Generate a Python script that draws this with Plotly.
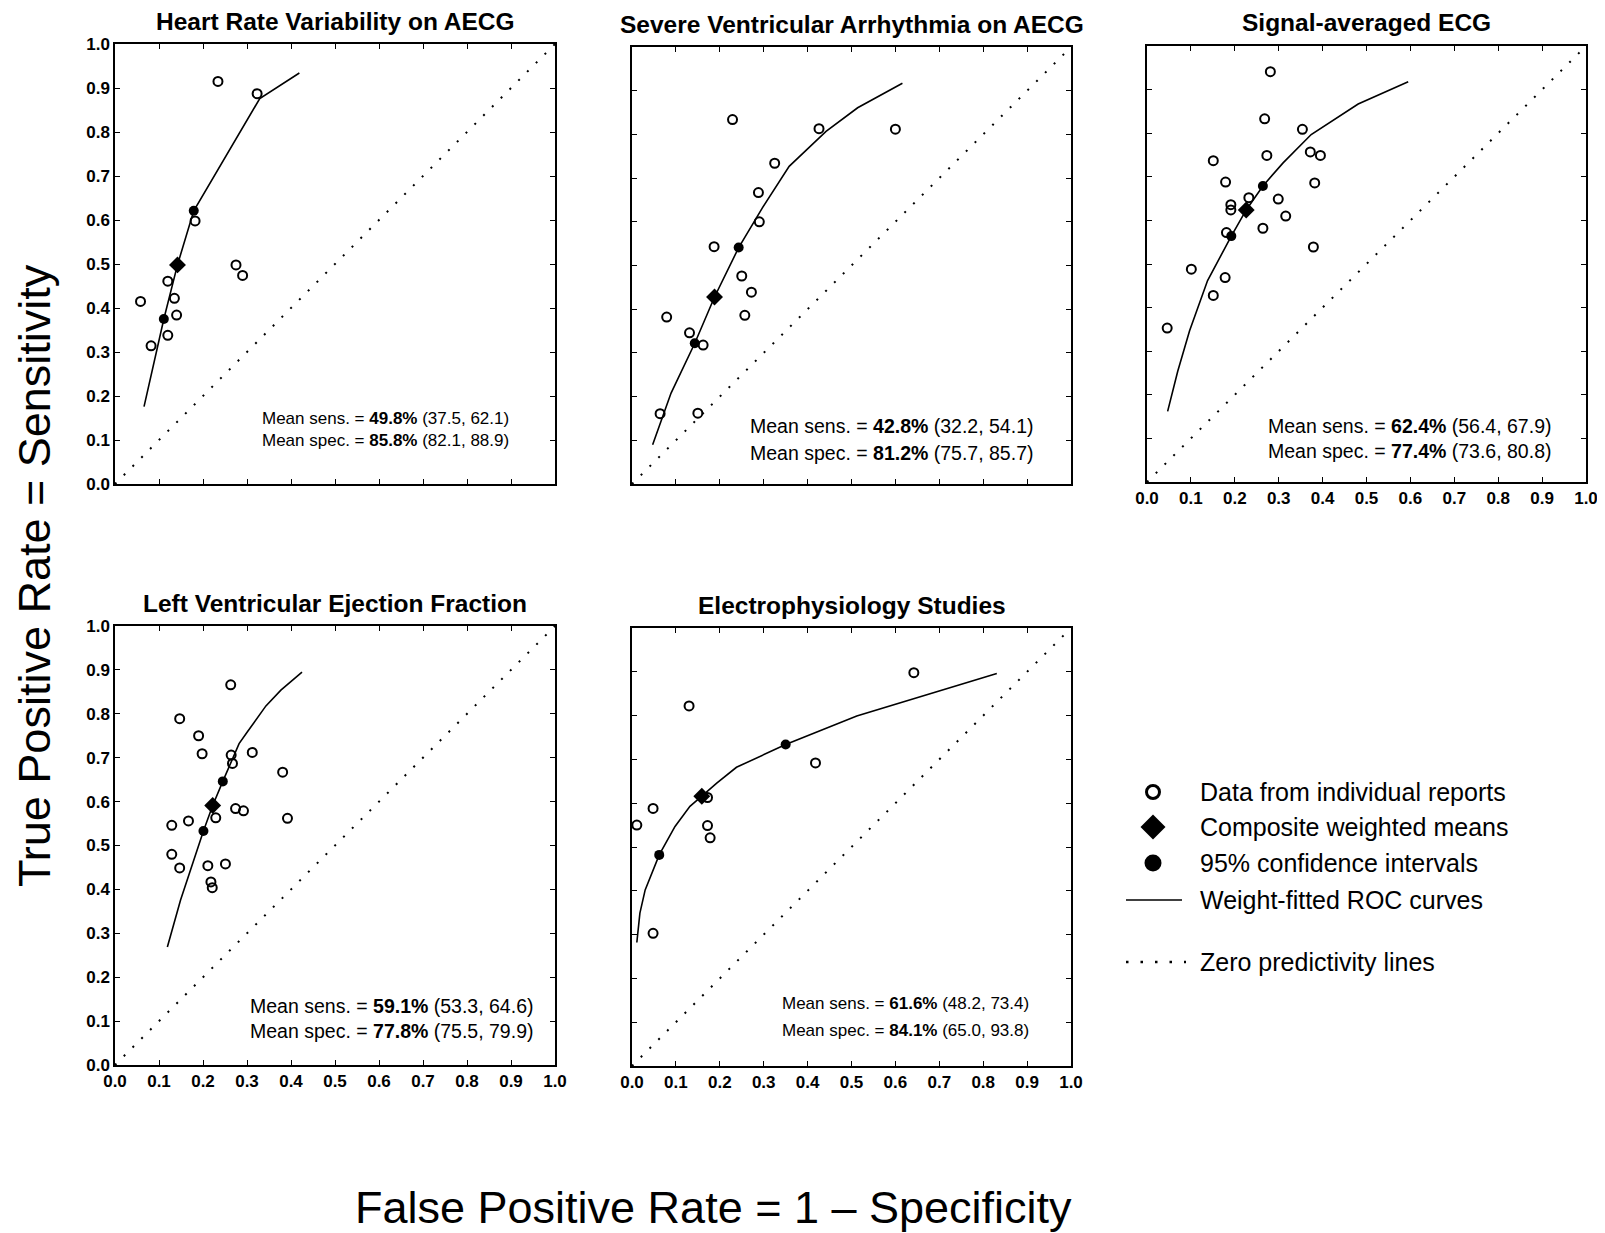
import plotly.graph_objects as go

W, H = 1605, 1233
OFF = 8  # the page body adds an 8px margin; compensate so the chart lands where intended
FONT = "Arial, 'Liberation Sans', Helvetica, sans-serif"

# ---------------- data (FPR = 1 - specificity, TPR = sensitivity) ----------------
titles = ["Heart Rate Variability on AECG", "Severe Ventricular Arrhythmia on AECG",
          "Signal-averaged ECG", "Left Ventricular Ejection Fraction",
          "Electrophysiology Studies"]

# Heart Rate Variability on AECG
hrv_obs_fpr = [0.058, 0.082, 0.120, 0.135, 0.140, 0.120, 0.182, 0.234, 0.323, 0.275, 0.290]
hrv_obs_tpr = [0.415, 0.314, 0.461, 0.422, 0.384, 0.338, 0.598, 0.915, 0.887, 0.498, 0.474]
hrv_ci_fpr = [0.111, 0.179]
hrv_ci_tpr = [0.375, 0.621]
hrv_mean_fpr = [0.142]
hrv_mean_tpr = [0.498]
hrv_roc_fpr = [0.066, 0.111, 0.142, 0.179, 0.329, 0.419]
hrv_roc_tpr = [0.176, 0.375, 0.498, 0.621, 0.876, 0.934]

# Severe Ventricular Arrhythmia on AECG
sva_obs_fpr = [0.064, 0.079, 0.131, 0.162, 0.150, 0.187, 0.229, 0.250, 0.272, 0.257, 0.288,
               0.290, 0.325, 0.426, 0.600]
sva_obs_tpr = [0.161, 0.382, 0.346, 0.318, 0.162, 0.543, 0.834, 0.476, 0.439, 0.386, 0.667,
               0.600, 0.734, 0.813, 0.812]
sva_ci_fpr = [0.143, 0.243]
sva_ci_tpr = [0.322, 0.541]
sva_mean_fpr = [0.188]
sva_mean_tpr = [0.428]
sva_roc_fpr = [0.047, 0.089, 0.143, 0.188, 0.243, 0.297, 0.358, 0.442, 0.514, 0.616]
sva_roc_tpr = [0.090, 0.208, 0.322, 0.428, 0.541, 0.632, 0.727, 0.807, 0.861, 0.917]

# Signal-averaged ECG
saecg_obs_fpr = [0.046, 0.101, 0.151, 0.178, 0.151, 0.179, 0.191, 0.191, 0.181, 0.232, 0.281,
                 0.268, 0.273, 0.264, 0.299, 0.316, 0.354, 0.372, 0.395, 0.382, 0.379]
saecg_obs_tpr = [0.353, 0.488, 0.428, 0.469, 0.737, 0.688, 0.636, 0.624, 0.572, 0.652, 0.941,
                 0.833, 0.749, 0.582, 0.649, 0.610, 0.809, 0.757, 0.749, 0.686, 0.539]
saecg_ci_fpr = [0.192, 0.264]
saecg_ci_tpr = [0.564, 0.679]
saecg_mean_fpr = [0.226]
saecg_mean_tpr = [0.624]
saecg_roc_fpr = [0.047, 0.070, 0.097, 0.138, 0.192, 0.226, 0.264, 0.310, 0.374, 0.481, 0.595]
saecg_roc_tpr = [0.162, 0.254, 0.347, 0.462, 0.564, 0.624, 0.679, 0.732, 0.797, 0.867, 0.918]

# Left Ventricular Ejection Fraction
lvef_obs_fpr = [0.147, 0.129, 0.129, 0.147, 0.167, 0.190, 0.198, 0.211, 0.218, 0.221, 0.229,
                0.251, 0.263, 0.264, 0.267, 0.274, 0.292, 0.312, 0.381, 0.392]
lvef_obs_tpr = [0.789, 0.546, 0.480, 0.449, 0.556, 0.750, 0.709, 0.454, 0.417, 0.404, 0.563,
                0.458, 0.866, 0.706, 0.687, 0.584, 0.579, 0.712, 0.667, 0.562]
lvef_ci_fpr = [0.201, 0.245]
lvef_ci_tpr = [0.533, 0.646]
lvef_mean_fpr = [0.222]
lvef_mean_tpr = [0.591]
lvef_roc_fpr = [0.119, 0.149, 0.201, 0.222, 0.245, 0.282, 0.301, 0.343, 0.377, 0.425]
lvef_roc_tpr = [0.269, 0.376, 0.533, 0.591, 0.646, 0.732, 0.759, 0.818, 0.854, 0.895]

# Electrophysiology Studies
eps_obs_fpr = [0.011, 0.048, 0.048, 0.130, 0.172, 0.172, 0.178, 0.418, 0.642]
eps_obs_tpr = [0.550, 0.588, 0.303, 0.822, 0.613, 0.549, 0.521, 0.692, 0.898]
eps_ci_fpr = [0.062, 0.350]
eps_ci_tpr = [0.482, 0.734]
eps_mean_fpr = [0.159]
eps_mean_tpr = [0.616]
eps_roc_fpr = [0.011, 0.018, 0.030, 0.062, 0.098, 0.132, 0.159, 0.193, 0.238, 0.350, 0.512, 0.831]
eps_roc_tpr = [0.282, 0.349, 0.402, 0.482, 0.547, 0.593, 0.616, 0.646, 0.682, 0.734, 0.799, 0.896]

# summary statistics: mean (95% CI)
mean_sens = ["49.8%", "42.8%", "62.4%", "59.1%", "61.6%"]
sens_ci = ["(37.5, 62.1)", "(32.2, 54.1)", "(56.4, 67.9)", "(53.3, 64.6)", "(48.2, 73.4)"]
mean_spec = ["85.8%", "81.2%", "77.4%", "77.8%", "84.1%"]
spec_ci = ["(82.1, 88.9)", "(75.7, 85.7)", "(73.6, 80.8)", "(75.5, 79.9)", "(65.0, 93.8)"]

diag = [0, 1]
ticks = [0.0, 0.1, 0.2, 0.3, 0.4, 0.5, 0.6, 0.7, 0.8, 0.9, 1.0]

legend_labels = ["Data from individual reports", "Composite weighted means",
                 "95% confidence intervals", "Weight-fitted ROC curves",
                 "Zero predictivity lines"]

# ---------------- layout helpers ----------------
panels = [
    dict(obs=(hrv_obs_fpr, hrv_obs_tpr), ci=(hrv_ci_fpr, hrv_ci_tpr),
         mean=(hrv_mean_fpr, hrv_mean_tpr), roc=(hrv_roc_fpr, hrv_roc_tpr)),
    dict(obs=(sva_obs_fpr, sva_obs_tpr), ci=(sva_ci_fpr, sva_ci_tpr),
         mean=(sva_mean_fpr, sva_mean_tpr), roc=(sva_roc_fpr, sva_roc_tpr)),
    dict(obs=(saecg_obs_fpr, saecg_obs_tpr), ci=(saecg_ci_fpr, saecg_ci_tpr),
         mean=(saecg_mean_fpr, saecg_mean_tpr), roc=(saecg_roc_fpr, saecg_roc_tpr)),
    dict(obs=(lvef_obs_fpr, lvef_obs_tpr), ci=(lvef_ci_fpr, lvef_ci_tpr),
         mean=(lvef_mean_fpr, lvef_mean_tpr), roc=(lvef_roc_fpr, lvef_roc_tpr)),
    dict(obs=(eps_obs_fpr, eps_obs_tpr), ci=(eps_ci_fpr, eps_ci_tpr),
         mean=(eps_mean_fpr, eps_mean_tpr), roc=(eps_roc_fpr, eps_roc_tpr)),
]

# pixel boxes of the plot areas (left, right, top, bottom) in page pixels
boxes = [(115, 555, 44, 484), (632, 1071, 47, 484), (1147, 1586, 46, 482),
         (115, 555, 626, 1065), (632, 1071, 628, 1066)]
show_xlabels = [False, False, True, True, True]
show_ylabels = [True, False, False, True, False]
# annotation placement (data coords) and font size per panel
ann_pos = [(0.90, 0.149, 0.098, 17), (0.918, 0.132, 0.072, 19.5), (0.924, 0.129, 0.070, 19.5),
           (0.955, 0.134, 0.077, 19.5), (0.910, 0.143, 0.082, 17)]


def px_x(p):
    return (p - OFF) / W


def px_y(p):
    return 1 - (p - OFF) / H


fig = go.Figure()
annotations = []

for i, pnl in enumerate(panels):
    n = "" if i == 0 else str(i + 1)
    xa, ya = "x" + n, "y" + n
    l, r, t, b = boxes[i]

    fig.add_trace(go.Scatter(x=diag, y=diag, xaxis=xa, yaxis=ya, mode="lines",
                             line=dict(color="black", width=2, dash="2px,10.4px"),
                             showlegend=False, hoverinfo="skip"))
    fig.add_trace(go.Scatter(x=pnl["roc"][0], y=pnl["roc"][1], xaxis=xa, yaxis=ya,
                             mode="lines", line=dict(color="black", width=1.6),
                             showlegend=False))
    fig.add_trace(go.Scatter(x=pnl["obs"][0], y=pnl["obs"][1], xaxis=xa, yaxis=ya,
                             mode="markers",
                             marker=dict(symbol="circle-open", size=9, color="black",
                                         line=dict(width=2, color="black")),
                             showlegend=False))
    fig.add_trace(go.Scatter(x=pnl["ci"][0], y=pnl["ci"][1], xaxis=xa, yaxis=ya,
                             mode="markers",
                             marker=dict(symbol="circle", size=10, color="black"),
                             showlegend=False))
    fig.add_trace(go.Scatter(x=pnl["mean"][0], y=pnl["mean"][1], xaxis=xa, yaxis=ya,
                             mode="markers",
                             marker=dict(symbol="diamond", size=13, color="black"),
                             showlegend=False))

    axis_common = dict(range=[0, 1], tickmode="array", tickvals=ticks, tickformat=".1f",
                       ticks="inside", ticklen=5, tickwidth=1.4, tickcolor="black",
                       showline=True, linewidth=1.5, linecolor="black", mirror="allticks",
                       showgrid=False, zeroline=False, automargin=False,
                       tickfont=dict(family=FONT, size=17, color="black", weight="bold"))
    fig.update_layout(**{
        ("xaxis" + n): dict(axis_common, domain=[px_x(l), px_x(r)], anchor=ya,
                            showticklabels=show_xlabels[i]),
        ("yaxis" + n): dict(axis_common, domain=[px_y(b), px_y(t)], anchor=xa,
                            showticklabels=show_ylabels[i]),
    })

    # panel title
    annotations.append(dict(text="<b>" + titles[i] + "</b>", xref="paper", yref="paper",
                            x=px_x((l + r) / 2), y=px_y(t - 23), xanchor="center",
                            yanchor="middle", showarrow=False,
                            font=dict(family=FONT, size=24.5, color="black")))
    ax, y1, y2, fs = ann_pos[i]
    annotations.append(dict(text="Mean sens. = <b>" + mean_sens[i] + "</b> " + sens_ci[i],
                            xref=xa, yref=ya, x=ax, y=y1, xanchor="right", yanchor="middle",
                            showarrow=False, font=dict(family=FONT, size=fs, color="black")))
    annotations.append(dict(text="Mean spec. = <b>" + mean_spec[i] + "</b> " + spec_ci[i],
                            xref=xa, yref=ya, x=ax, y=y2, xanchor="right", yanchor="middle",
                            showarrow=False, font=dict(family=FONT, size=fs, color="black")))

# global axis titles
annotations.append(dict(text="True Positive Rate = Sensitivity", xref="paper", yref="paper",
                        x=px_x(34), y=px_y(576), textangle=-90, showarrow=False,
                        xanchor="center", yanchor="middle",
                        font=dict(family=FONT, size=45, color="black")))
annotations.append(dict(text="False Positive Rate = 1 \u2013 Specificity", xref="paper",
                        yref="paper", x=px_x(713), y=px_y(1207), showarrow=False,
                        xanchor="center", yanchor="middle",
                        font=dict(family=FONT, size=45, color="black")))

# ---------------- key (legend) ----------------
leg_sym_x = 1153
leg_text_x = 1198
leg_rows = [792, 827, 863, 900, 962]
shapes = []
# open circle
shapes.append(dict(type="circle", xref="paper", yref="paper", xsizemode="pixel",
                   ysizemode="pixel", xanchor=px_x(leg_sym_x), yanchor=px_y(leg_rows[0]),
                   x0=-6.5, x1=6.5, y0=-6.5, y1=6.5, line=dict(color="black", width=3)))
# diamond
shapes.append(dict(type="path", xref="paper", yref="paper", xsizemode="pixel",
                   ysizemode="pixel", xanchor=px_x(leg_sym_x), yanchor=px_y(leg_rows[1]),
                   path="M -12.5 0 L 0 12.5 L 12.5 0 L 0 -12.5 Z", fillcolor="black",
                   line=dict(color="black", width=0)))
# filled circle
shapes.append(dict(type="circle", xref="paper", yref="paper", xsizemode="pixel",
                   ysizemode="pixel", xanchor=px_x(leg_sym_x), yanchor=px_y(leg_rows[2]),
                   x0=-8.5, x1=8.5, y0=-8.5, y1=8.5, fillcolor="black",
                   line=dict(color="black", width=0)))
# solid line
shapes.append(dict(type="line", xref="paper", yref="paper", x0=px_x(1126), x1=px_x(1182),
                   y0=px_y(leg_rows[3]), y1=px_y(leg_rows[3]),
                   line=dict(color="black", width=1.6)))
# dotted line
shapes.append(dict(type="line", xref="paper", yref="paper", x0=px_x(1126), x1=px_x(1186),
                   y0=px_y(leg_rows[4]), y1=px_y(leg_rows[4]),
                   line=dict(color="black", width=2.5, dash="2.5px,12px")))

for lab, ry in zip(legend_labels, leg_rows):
    annotations.append(dict(text=lab, xref="paper", yref="paper", x=px_x(leg_text_x),
                            y=px_y(ry), xanchor="left", yanchor="middle", showarrow=False,
                            font=dict(family=FONT, size=25, color="black")))

fig.update_layout(width=W, height=H, margin=dict(l=0, r=0, t=0, b=0, autoexpand=False),
                  paper_bgcolor="white", plot_bgcolor="white", showlegend=False,
                  annotations=annotations, shapes=shapes)

fig.write_html("out.html")
